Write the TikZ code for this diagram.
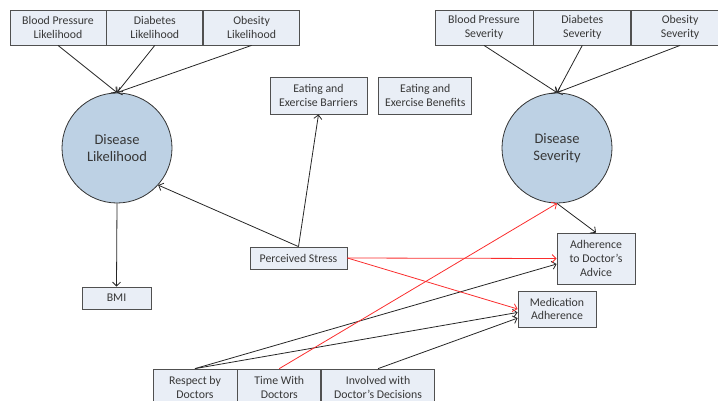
\documentclass[tikz,border=0pt]{standalone}
\usepackage{fontspec}
\setmainfont{Carlito}
\usepackage{xcolor}
\usetikzlibrary{
    arrows.meta,
    positioning
}
\definecolor{boxfill}{RGB}{233,238,246}
\definecolor{circfill}{RGB}{189,209,228}
\definecolor{edgegray}{RGB}{80,80,80}
\definecolor{textgray}{RGB}{55,55,55}
\definecolor{redline}{RGB}{250,45,45}
\tikzset{
    factor/.style={
        rectangle,
        draw=edgegray,
        fill=boxfill,
        minimum width=96pt,
        minimum height=35pt,
        inner sep=1pt,
        align=center,
        text=textgray,
        font=\fontsize{11.8}{13.8}\selectfont,
        line width=0.8pt
    },
    latent/.style={
        circle,
        draw=black!80,
        fill=circfill,
        minimum size=110pt,
        align=center,
        text=textgray,
        font=\fontsize{14.5}{17.5}\selectfont,
        line width=0.8pt
    },
    link/.style={
        -{Straight Barb[length=4pt,width=8pt]},
        draw=black!85,
        line width=0.8pt
    },
    stresslink/.style={
        link,
        draw=redline
    }
}
\begin{document}
\begin{tikzpicture}[x=1pt, y=-1pt, node distance=0pt]
    \useasboundingbox (0,0) rectangle (718,400);
    % Likelihood factors
    \node[factor] (bplik) at (58,27.5) {Blood Pressure\\Likelihood};
    \node[factor, right=0pt of bplik] (dblik) {Diabetes\\Likelihood};
    \node[factor, right=0pt of dblik] (oblik) {Obesity\\Likelihood};
    % Severity factors
    \node[factor, minimum width=98pt] (bpsev) at (484,27.5) {Blood Pressure\\Severity};
    \node[factor, minimum width=97pt, right=0pt of bpsev] (dbsev) {Diabetes\\Severity};
    \node[factor, minimum width=97pt, right=0pt of dbsev] (obsev) {Obesity\\Severity};
    % Latent variables
    \node[latent] (dlik) at (117,148) {Disease\\Likelihood};
    \node[latent] (dsev) at (557,148) {Disease\\Severity};
    % Middle boxes
    \node[factor, minimum width=97pt, minimum height=37pt] (barriers) at (318.5,95.5) {Eating and\\Exercise Barriers};
    \node[factor, minimum width=93pt, minimum height=37pt, right=11pt of barriers] (benefits) {Eating and\\Exercise Benefits};
    \node[factor, minimum width=97pt, minimum height=22pt] (stress) at (298.5,258) {Perceived Stress};
    \node[factor, minimum width=69pt, minimum height=22pt] (bmi) at (116.5,298) {BMI};
    \node[factor, minimum width=78pt, minimum height=51pt] (advice) at (596,258.5) {Adherence\\to Doctor's\\Advice};
    \node[factor, minimum width=78pt, minimum height=36pt] (medadh) at (557,309) {Medication\\Adherence};
    % Doctor factors
    \node[factor, minimum width=84pt, minimum height=37pt] (respect) at (195,387.5) {Respect by\\Doctors};
    \node[factor, minimum width=83pt, minimum height=37pt, right=0pt of respect] (timewith) {Time With\\Doctors};
    \node[factor, minimum width=113pt, minimum height=37pt, right=0pt of timewith] (involved) {Involved with\\Doctor's Decisions};

    % Connectors
    \draw[link] (bplik.south) -- (dlik.north);
    \draw[link] (dblik.south) -- (dlik.north);
    \draw[link] (oblik.south) -- (dlik.north);
    \draw[link] (bpsev.south) -- (dsev.north);
    \draw[link] (dbsev.south) -- (dsev.north);
    \draw[link] (obsev.south) -- (dsev.north);
    \draw[link] (dlik.south) -- (bmi.north);
    \draw[link] (stress.north) -- (dlik.-42);
    \draw[link] (stress.north) -- (barriers.south);
    \draw[link] (dsev.south) -- (advice.north);
    \draw[link] (respect.north) -- (advice.188);
    \draw[link] (respect.north) -- (medadh.185);
    \draw[link] (involved.north) -- (medadh.193);
    \draw[stresslink] (stress.east) -- (advice.west);
    \draw[stresslink] (stress.east) -- (medadh.west);
    \draw[stresslink] (timewith.north) -- (dsev.south);
\end{tikzpicture}
\end{document}
